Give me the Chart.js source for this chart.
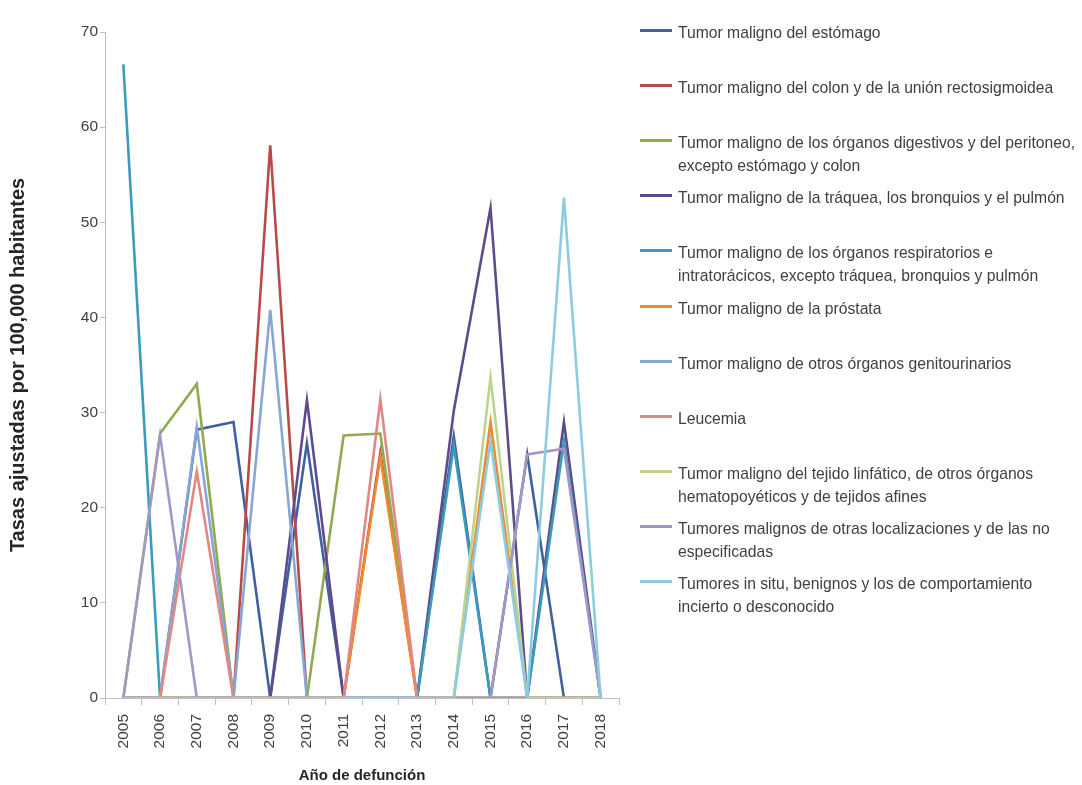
<!DOCTYPE html>
<html lang="es">
<head>
<meta charset="utf-8">
<title>Tasas ajustadas por 100,000 habitantes</title>
<script src="https://cdn.jsdelivr.net/npm/chart.js@4.4.1/dist/chart.umd.min.js"></script>
<style>
  body { margin: 0; background: #fff; font-family: "Liberation Sans", Arial, sans-serif; }
  #wrap { position: relative; width: 1082px; height: 785px; overflow: hidden; }
  #chart { position: absolute; left: 0; top: 0; }
  #legend { position: absolute; left: 632px; top: 0; width: 450px; height: 785px; }
  .item { position: absolute; left: 0; width: 450px; height: 50px; }
  .sw { position: absolute; left: 8px; top: 8px; width: 32px; height: 3px; }
  .txt { position: absolute; left: 46px; top: 0; white-space: nowrap; font-size: 15.7px; line-height: 23px; color: #404040; }
</style>
</head>
<body>
<div id="wrap">
  <canvas id="chart" width="640" height="785"></canvas>
  <div id="legend"></div>
</div>
<script>
const years = ['2005', '2006', '2007', '2008', '2009', '2010', '2011', '2012', '2013', '2014', '2015', '2016', '2017', '2018'];

const estomago      = [0, 0, 28.2, 29.0, 0, 26.8, 0, 0, 0, 27.5, 0, 25.6, 0, 0];
const colon         = [0, 0, 0, 0, 58.1, 0, 0, 25.8, 0, 0, 0, 0, 0, 0];
const digestivos    = [0, 27.8, 33.0, 0, 0, 0, 27.6, 27.8, 0, 0, 0, 0, 0, 0];
const traquea       = [0, 0, 0, 0, 0, 31.3, 0, 0, 0, 30.2, 51.5, 0, 29.0, 0];
const respiratorios = [66.6, 0, 0, 0, 0, 0, 0, 0, 0, 26.5, 0, 0, 27.0, 0];
const prostata      = [0, 0, 0, 0, 0, 0, 0, 25.3, 0, 0, 29.0, 0, 0, 0];
const genitourin    = [0, 0, 28.5, 0, 40.8, 0, 0, 0, 0, 0, 0, 0, 0, 0];
const leucemia      = [0, 0, 23.8, 0, 0, 0, 0, 31.4, 0, 0, 0, 0, 0, 0];
const linfatico     = [0, 0, 0, 0, 0, 0, 0, 0, 0, 0, 33.7, 0, 0, 0];
const otras         = [0, 27.6, 0, 0, 0, 0, 0, 0, 0, 0, 0, 25.6, 26.2, 0];
const inSitu        = [0, 0, 0, 0, 0, 0, 0, 0, 0, 0, 27.0, 0, 52.6, 0];

const seriesNames = [
  ['Tumor maligno del estómago'],
  ['Tumor maligno del colon y de la unión rectosigmoidea'],
  ['Tumor maligno de los órganos digestivos y del peritoneo,', 'excepto estómago y colon'],
  ['Tumor maligno de la tráquea, los bronquios y el pulmón'],
  ['Tumor maligno de los órganos respiratorios e', 'intratorácicos, excepto tráquea, bronquios y pulmón'],
  ['Tumor maligno de la próstata'],
  ['Tumor maligno de otros órganos genitourinarios'],
  ['Leucemia'],
  ['Tumor maligno del tejido linfático, de otros órganos', 'hematopoyéticos y de tejidos afines'],
  ['Tumores malignos de otras localizaciones y de las no', 'especificadas'],
  ['Tumores in situ, benignos y los de comportamiento', 'incierto o desconocido']
];
const seriesValues = [estomago, colon, digestivos, traquea, respiratorios, prostata,
  genitourin, leucemia, linfatico, otras, inSitu];
const seriesColors = ['#41609f', '#b84a48', '#8fab4c', '#5e4b8a', '#3a9bbd', '#ee8a2f',
  '#86a6d6', '#e28784', '#bdd48c', '#a596c6', '#8ccbe0'];

Chart.defaults.font.family = '"Liberation Sans", Arial, sans-serif';

const chart = new Chart(document.getElementById('chart'), {
  type: 'line',
  data: {
    labels: years,
    datasets: seriesValues.map((values, i) => ({
      label: seriesNames[i].join(' '),
      data: values,
      borderColor: seriesColors[i],
      backgroundColor: seriesColors[i],
      borderWidth: 2.6,
      pointRadius: 0,
      tension: 0,
      order: -i
    }))
  },
  options: {
    responsive: false,
    animation: false,
    layout: { padding: { top: 32, right: 21, bottom: 0, left: 0 } },
    plugins: {
      legend: { display: false },
      tooltip: { enabled: false }
    },
    scales: {
      x: {
        offset: true,
        grid: { drawOnChartArea: false, tickLength: 7, color: '#bfbfbf', offset: true },
        border: { color: '#bfbfbf' },
        ticks: { minRotation: 90, maxRotation: 90, autoSkip: false, padding: 9, color: '#404040', font: { size: 15.5 } },
        title: {
          display: true,
          text: 'Año de defunción',
          color: '#262626',
          font: { size: 15, weight: 'bold' },
          padding: { top: 0, bottom: 0 }
        },
        afterFit(scale) { scale.height = 87; }
      },
      y: {
        min: 0,
        max: 70,
        grid: { drawOnChartArea: false, tickLength: 5, color: '#bfbfbf' },
        border: { color: '#bfbfbf' },
        ticks: { stepSize: 10, padding: 2, color: '#404040', font: { size: 15.5 } },
        title: {
          display: true,
          text: 'Tasas ajustadas por 100,000 habitantes',
          color: '#262626',
          font: { size: 20, weight: 'bold' },
          padding: { top: 6, bottom: 0 }
        },
        afterFit(scale) { scale.width = 105; }
      }
    }
  }
});

// legend on the right, one block per series with a fixed pitch
const legend = document.getElementById('legend');
chart.data.datasets.forEach((ds, i) => {
  const item = document.createElement('div');
  item.className = 'item';
  item.style.top = Math.round(21 + i * 55.1) + 'px';
  const sw = document.createElement('div');
  sw.className = 'sw';
  sw.style.background = ds.borderColor;
  const txt = document.createElement('div');
  txt.className = 'txt';
  txt.innerHTML = seriesNames[i].join('<br>');
  item.appendChild(sw);
  item.appendChild(txt);
  legend.appendChild(item);
});
</script>
</body>
</html>
